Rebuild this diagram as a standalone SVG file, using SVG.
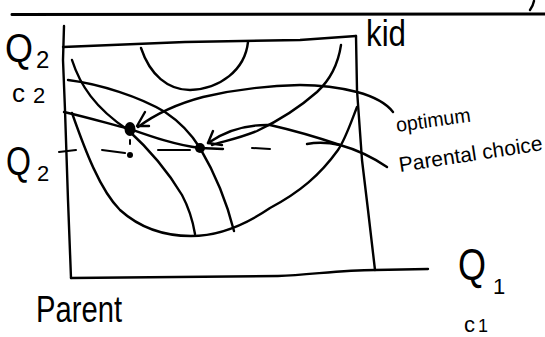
<svg xmlns="http://www.w3.org/2000/svg" width="545" height="337" viewBox="0 0 545 337">
<style>
.ln{fill:none;stroke:#000;stroke-width:2.4;stroke-linecap:round;stroke-linejoin:round}
.thk{fill:none;stroke:#000;stroke-width:3;stroke-linecap:round}
.ds{fill:none;stroke:#000;stroke-width:2;stroke-linecap:round}
.t{font-family:"Liberation Sans",Arial,sans-serif;fill:#000}
</style>
<rect width="545" height="337" fill="#fff"/>
<g id="page">
<path class="thk" d="M12,14.5 L545,14"/>
<path class="ln" d="M534,1 Q533,6 530,10"/>
</g>
<g id="box">
<path class="ln" d="M64,26 L63,60 L65,110 L68,200 L71,278"/>
<path class="ln" d="M71,278 C150,277 220,276 278,276 C310,275 340,270 375,270 L428,269"/>
<path class="ln" d="M63,47 L185,42 L300,40 L356,36"/>
<path class="ln" d="M356,36 L357,90 L362,160 L368,210 L375,270"/>
</g>
<g id="curves">
<path class="ln" d="M141,48 C150,75 168,90 190,90 C220,89 245,70 248,42"/>
<path class="ln" d="M357,107 C350,125 345,140 338,150 C320,175 300,192 270,208 C245,225 220,236 191,236 C165,236 140,228 120,210 C100,190 85,150 72,113"/>
<path class="ln" d="M341,45 C338,65 330,80 317,92 C300,107 280,120 257,131 C240,138 225,141 212,145"/>
<path class="ln" d="M72,60 C80,85 95,108 128,130 C150,150 170,175 182,195 C190,210 193,222 195,234"/>
<path class="ln" d="M64,112 C90,118 110,124 130,129 C150,136 175,145 200,148 L223,149"/>
<path class="ln" d="M68,80 C100,84 140,97 165,112 C180,122 192,135 200,148 C210,165 225,195 234,231"/>
</g>
<g id="guides">
<path class="ds" d="M59,152 L76,150"/>
<path class="ds" d="M102,150 L125,153"/>
<path class="ds" d="M130,140 L130,144"/>
<path class="ds" d="M158,150 L190,150"/>
<path class="ds" d="M252,148 L270,149"/>
</g>
<g id="points">
<ellipse cx="130" cy="129" rx="5.5" ry="7"/>
<circle cx="200" cy="148" r="5"/>
<circle cx="130" cy="155" r="3"/>
</g>
<g id="connectors">
<path class="ln" d="M393,112 Q383,99 357,92 Q330,85 300,85 Q250,86 203,97 Q165,107 138,127"/>
<path class="ln" d="M145,112 L137,126 L149,126"/>
<path class="ln" d="M387,167 Q365,152 340,145 Q305,133 270,125 Q235,124 208,143"/>
<path class="ln" d="M213,131 L208,143 L222,145"/>
<path class="ln" d="M307,144 Q322,141 340,145"/>
</g>
<g id="labels">
<text class="t" x="5" y="62" font-size="40" textLength="28" lengthAdjust="spacingAndGlyphs">Q</text>
<text class="t" x="36" y="68" font-size="24">2</text>
<text class="t" x="12" y="102" font-size="26">c</text>
<text class="t" x="33" y="103" font-size="22">2</text>
<text class="t" x="6" y="175" font-size="40" textLength="25" lengthAdjust="spacingAndGlyphs">Q</text>
<text class="t" x="37" y="181" font-size="22">2</text>
<text class="t" x="366" y="46" font-size="36" textLength="40" lengthAdjust="spacingAndGlyphs">kid</text>
<text class="t" x="397" y="132" font-size="20" textLength="75" lengthAdjust="spacingAndGlyphs" transform="rotate(-8 397 132)">optimum</text>
<text class="t" x="400" y="172" font-size="21" textLength="145" lengthAdjust="spacingAndGlyphs" transform="rotate(-8.7 400 172)">Parental choice</text>
<text class="t" x="36" y="322" font-size="36" textLength="86" lengthAdjust="spacingAndGlyphs">Parent</text>
<text class="t" x="458" y="280" font-size="44" textLength="28" lengthAdjust="spacingAndGlyphs">Q</text>
<text class="t" x="493" y="294" font-size="22">1</text>
<text class="t" x="464" y="332" font-size="22">c</text>
<text class="t" x="478" y="332" font-size="18">1</text>
</g>
</svg>
